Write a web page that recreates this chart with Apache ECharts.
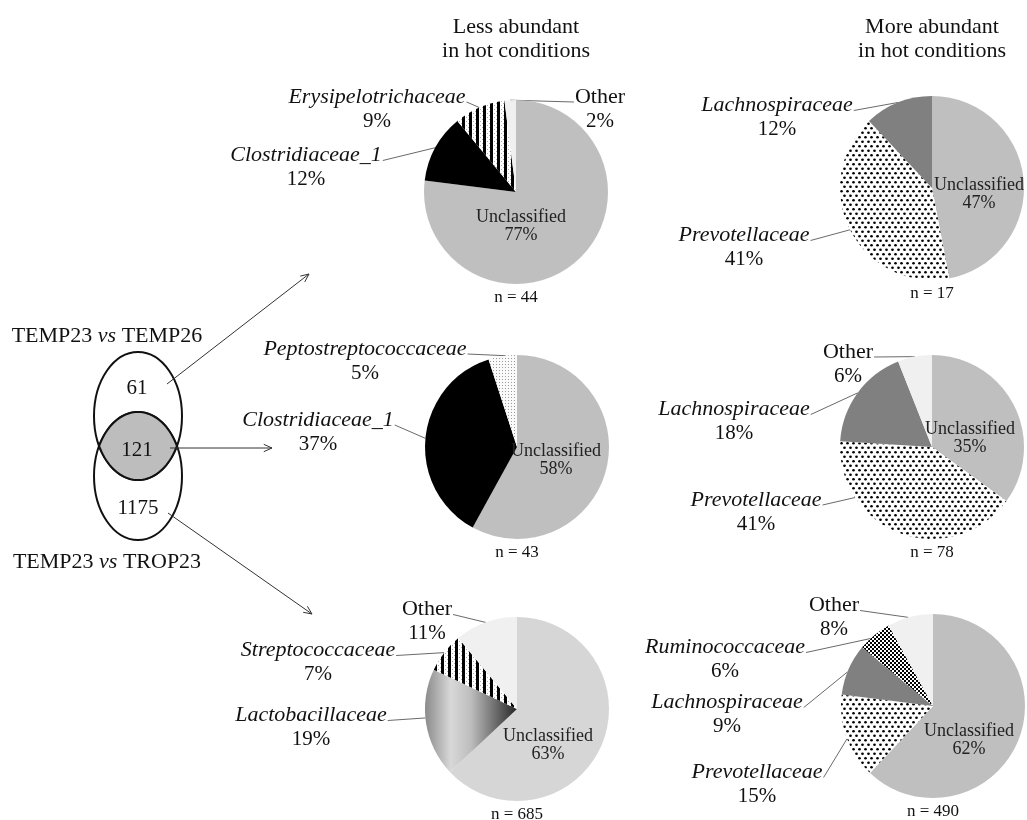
<!DOCTYPE html>
<html><head><meta charset="utf-8">
<script src="https://cdn.jsdelivr.net/npm/echarts@6/dist/echarts.min.js"></script>
<style>html,body{margin:0;padding:0;background:#fff}#c{width:1027px;height:820px}</style>
</head><body><div id="c"></div>
<script>
// ---------------- data ----------------
const lessTemp26Names = ['Unclassified', 'Clostridiaceae_1', 'Erysipelotrichaceae', 'Other'];
const lessTemp26Values = [77, 12, 9, 2];
const lessBothNames = ['Unclassified', 'Clostridiaceae_1', 'Peptostreptococcaceae'];
const lessBothValues = [58, 37, 5];
const lessTrop23Names = ['Unclassified', 'Lactobacillaceae', 'Streptococcaceae', 'Other'];
const lessTrop23Values = [63, 19, 7, 11];
const moreTemp26Names = ['Unclassified', 'Prevotellaceae', 'Lachnospiraceae'];
const moreTemp26Values = [47, 41, 12];
const moreBothNames = ['Unclassified', 'Prevotellaceae', 'Lachnospiraceae', 'Other'];
const moreBothValues = [35, 41, 18, 6];
const moreTrop23Names = ['Unclassified', 'Prevotellaceae', 'Lachnospiraceae', 'Ruminococcaceae', 'Other'];
const moreTrop23Values = [62, 15, 9, 6, 8];
const sampleSizes = [44, 43, 685, 17, 78, 490];
const columnTitles = ['Less abundant\nin hot conditions', 'More abundant\nin hot conditions'];
const vennCounts = [61, 121, 1175];
const vennComparisons = [['TEMP23', 'vs', 'TEMP26'], ['TEMP23', 'vs', 'TROP23']];

// ---------------- layout (positions / sizes) ----------------
const SERIF = '"Liberation Serif", "Times New Roman", serif';
const R = 92;
const pieCenters = [[516, 192], [517, 447], [517, 709], [932, 188], [932, 447], [933, 706]];
// per slice: [labelCenterX, labelCenterY, fraction along slice where leader meets edge]
const labelLayouts = [
  [[521, 226.5], [306, 167.5, 0.5], [377, 109, 0.5], [600, 109, 0.5]],
  [[556, 460], [318, 432, 0.5], [365, 361, 0.6]],
  [[548, 745.5], [311, 727.5, 0.55], [318, 662.5, 0.5], [427, 621.5, 0.5]],
  [[979, 194], [744, 247.5, 0.5], [777, 117.5, 0.5]],
  [[970, 438], [756, 512, 0.75], [734, 421.5, 0.5], [848, 364, 0.5]],
  [[969, 740], [757, 784.5, 0.48], [727, 714.5, 0.45], [725, 659.5, 0.35], [834, 617.5, 0.46]]
];

// ---------------- fills ----------------
function tile(w, h, draw) {
  const c = document.createElement('canvas'); c.width = w; c.height = h;
  const g = c.getContext('2d'); draw(g);
  return { image: c, repeat: 'repeat' };
}
const stripeFill = tile(7, 4, g => {
  g.fillStyle = '#fff'; g.fillRect(0, 0, 7, 4);
  g.fillStyle = '#b0b0b0'; g.fillRect(4, 1, 1, 1); g.fillRect(6, 3, 1, 1);
  g.fillStyle = '#000'; g.fillRect(0, 0, 3, 4);
});
const dotFill = tile(6, 9, g => {
  g.fillStyle = '#fff'; g.fillRect(0, 0, 6, 9);
  g.fillStyle = '#000';
  g.beginPath(); g.arc(1.5, 2.25, 1.35, 0, 7); g.fill();
  g.beginPath(); g.arc(4.5, 6.75, 1.35, 0, 7); g.fill();
});
const fineDotFill = tile(3, 3, g => {
  g.fillStyle = '#fafafa'; g.fillRect(0, 0, 3, 3);
  g.fillStyle = '#9a9a9a'; g.fillRect(1, 1, 1, 1);
});
const checkFill = tile(4, 4, g => {
  g.fillStyle = '#fff'; g.fillRect(0, 0, 4, 4);
  g.fillStyle = '#000'; g.fillRect(0, 0, 2, 2); g.fillRect(2, 2, 2, 2);
});
const gradFill = {
  type: 'linear', x: 0, y: 0, x2: 1, y2: 0,
  colorStops: [
    { offset: 0, color: '#8a8a8a' }, { offset: 0.28, color: '#d8d8d8' },
    { offset: 0.5, color: '#bdbdbd' }, { offset: 1, color: '#262626' }
  ]
};
const sliceFills = {
  Unclassified: '#bfbfbf', Other: '#f0f0f0', Clostridiaceae_1: '#000000',
  Erysipelotrichaceae: stripeFill, Streptococcaceae: stripeFill,
  Peptostreptococcaceae: fineDotFill, Prevotellaceae: dotFill,
  Lachnospiraceae: '#808080', Ruminococcaceae: checkFill, Lactobacillaceae: gradFill
};
const unclassifiedOverride = { 2: '#d6d6d6' };

// ---------------- helpers ----------------
const mctx = document.createElement('canvas').getContext('2d');
function textWidth(t, italic) {
  mctx.font = (italic ? 'italic ' : '') + '22px ' + SERIF;
  return mctx.measureText(t).width;
}
const pies = [
  [lessTemp26Names, lessTemp26Values], [lessBothNames, lessBothValues], [lessTrop23Names, lessTrop23Values],
  [moreTemp26Names, moreTemp26Values], [moreBothNames, moreBothValues], [moreTrop23Names, moreTrop23Values]
];

const rich = {
  it: { fontFamily: SERIF, fontStyle: 'italic', fontSize: 22, lineHeight: 24, color: '#111' },
  up: { fontFamily: SERIF, fontSize: 22, lineHeight: 24, color: '#111' },
  pc: { fontFamily: SERIF, fontSize: 21, lineHeight: 24, color: '#111' },
  ui: { fontFamily: SERIF, fontSize: 18, lineHeight: 18, color: '#222' },
  uo: { fontFamily: SERIF, fontSize: 18, lineHeight: 18, color: '#222' }
};

const series = pies.map((p, k) => {
  const names = p[0], vals = p[1];
  const total = vals.reduce((a, b) => a + b, 0);
  const cum = []; let s = 0; vals.forEach(v => { cum.push(s); s += v; });
  return {
    type: 'pie', center: pieCenters[k], radius: R, startAngle: 90, clockwise: true,
    avoidLabelOverlap: false, silent: true, animation: false,
    data: names.map((n, i) => ({
      name: n, value: vals[i],
      itemStyle: { color: (n === 'Unclassified' && unclassifiedOverride[k]) ? unclassifiedOverride[k] : sliceFills[n] },
      labelLine: { show: n !== 'Unclassified' }
    })),
    label: {
      show: true, position: 'outside', rich: rich,
      formatter: prm => {
        if (prm.name === 'Unclassified') return '{ui|Unclassified}\n{uo|' + prm.value + '%}';
        const st = prm.name === 'Other' ? 'up' : 'it';
        return '{' + st + '|' + prm.name + '}\n{pc|' + prm.value + '%}';
      }
    },
    labelLine: { show: true, length: 5, length2: 5, lineStyle: { color: '#6a6a6a', width: 1 } },
    labelLayout: prm => {
      const i = prm.dataIndex;
      const L = labelLayouts[k][i];
      const res = { x: L[0], y: L[1], align: 'center', verticalAlign: 'middle' };
      const n = names[i];
      if (n === 'Unclassified') return res;
      const a0 = cum[i] / total * 2 * Math.PI, a1 = (cum[i] + vals[i]) / total * 2 * Math.PI;
      const a = a0 + (a1 - a0) * L[2];
      const c = pieCenters[k];
      const ex = c[0] + R * Math.sin(a), ey = c[1] - R * Math.cos(a);
      const w = textWidth(n, n !== 'Other');
      const sx = ex > L[0] ? L[0] + w / 2 + 1 : L[0] - w / 2 - 1;
      const sy = L[1] - 12 + 5;
      res.labelLinePoints = [[sx, sy], [ex, ey]];
      return res;
    }
  };
});

// ---------------- graphics ----------------
const graphics = [];
const colX = [pieCenters[0][0], pieCenters[3][0]];
columnTitles.forEach((t, i) => graphics.push({
  type: 'text', x: colX[i], y: 39, silent: true,
  style: { text: t, fontFamily: SERIF, fontSize: 22, lineHeight: 24, fill: '#111', align: 'center', verticalAlign: 'middle' }
}));
pieCenters.forEach((c, i) => graphics.push({
  type: 'text', x: c[0], y: c[1] + R + 14, silent: true,
  style: { text: 'n = ' + sampleSizes[i], fontFamily: SERIF, fontSize: 17, fill: '#111', align: 'center', verticalAlign: 'middle' }
}));

// Venn diagram
const vx = 138, vTop = 416, vBot = 476, vrx = 44, vry = 64;
const lens = [];
const N = 40;
const tTop = Math.acos(((vBot - vTop) / 2) / vry);
for (let j = 0; j <= N; j++) {
  const t = -tTop + (2 * tTop) * j / N;
  lens.push([vx + vrx * Math.sin(t), vTop + vry * Math.cos(t)]);
}
for (let j = 0; j <= N; j++) {
  const t = tTop - (2 * tTop) * j / N;
  lens.push([vx + vrx * Math.sin(t), vBot - vry * Math.cos(t)]);
}
graphics.push({ type: 'ellipse', shape: { cx: vx, cy: vTop, rx: vrx, ry: vry }, style: { fill: 'none', stroke: '#111', lineWidth: 2 }, silent: true });
graphics.push({ type: 'ellipse', shape: { cx: vx, cy: vBot, rx: vrx, ry: vry }, style: { fill: 'none', stroke: '#111', lineWidth: 2 }, silent: true });
graphics.push({ type: 'polygon', silent: true, shape: { points: lens }, style: { fill: '#bdbdbd', stroke: '#111', lineWidth: 2 } });
const countPos = [[137, 388], [137, 450], [138, 508]];
vennCounts.forEach((v, i) => graphics.push({
  type: 'text', x: countPos[i][0], y: countPos[i][1], silent: true,
  style: { text: String(v), fontFamily: SERIF, fontSize: 21, fill: '#111', align: 'center', verticalAlign: 'middle' }
}));
const cmpPos = [[107, 336], [107, 562]];
vennComparisons.forEach((c, i) => graphics.push({
  type: 'text', x: cmpPos[i][0], y: cmpPos[i][1], silent: true,
  style: {
    text: '{a|' + c[0] + ' }{b|' + c[1] + '}{a| ' + c[2] + '}', align: 'center', verticalAlign: 'middle',
    rich: {
      a: { fontFamily: SERIF, fontSize: 22, fill: '#111' },
      b: { fontFamily: SERIF, fontSize: 22, fontStyle: 'italic', fill: '#111' }
    }
  }
}));

function arrow(x1, y1, x2, y2) {
  const ang = Math.atan2(y2 - y1, x2 - x1), hl = 9, ha = 0.42;
  const p1 = [x2 - hl * Math.cos(ang - ha), y2 - hl * Math.sin(ang - ha)];
  const p2 = [x2 - hl * Math.cos(ang + ha), y2 - hl * Math.sin(ang + ha)];
  return [
    { type: 'polyline', silent: true, shape: { points: [[x1, y1], [x2, y2]] }, style: { stroke: '#333', lineWidth: 1, fill: null } },
    { type: 'polyline', silent: true, shape: { points: [p1, [x2, y2], p2] }, style: { stroke: '#333', lineWidth: 1, fill: null } }
  ];
}
graphics.push(...arrow(167, 384, 309, 274));
graphics.push(...arrow(170, 448, 272, 448));
graphics.push(...arrow(168, 513, 312, 614));

const chart = echarts.init(document.getElementById('c'), null, { renderer: 'canvas' });
chart.setOption({ backgroundColor: '#fff', animation: false, series: series, graphic: { elements: graphics } });
</script>
</body></html>
